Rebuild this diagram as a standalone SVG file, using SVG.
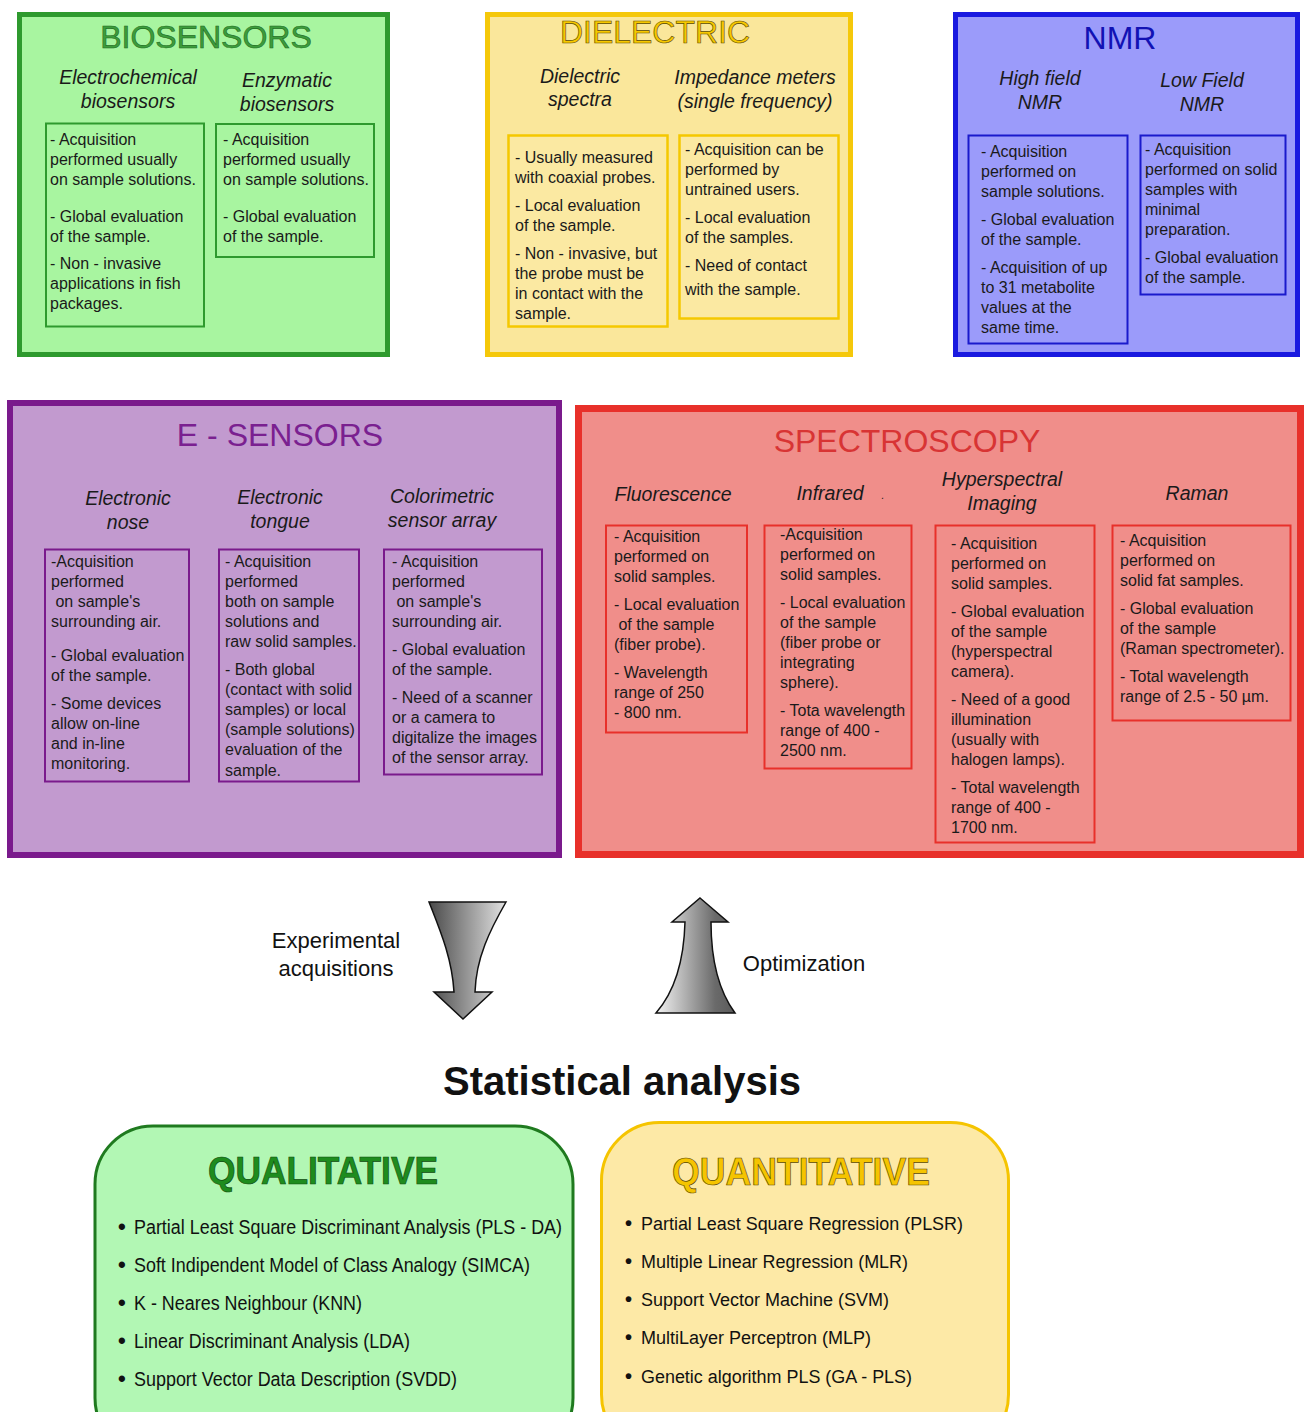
<svg xmlns="http://www.w3.org/2000/svg" width="1304" height="1412" viewBox="0 0 1304 1412">
<style>
text{font-family:"Liberation Sans",Arial,sans-serif;}
.b{font-size:16px;fill:#1a1a1a;}
.sub{font-size:19.5px;font-style:italic;fill:#1a1a1a;text-anchor:middle;}
.title{font-size:32px;text-anchor:middle;}
.li{font-size:20px;fill:#111;}
.bul{font-size:22px;font-weight:bold;fill:#111;}
.arrlbl{font-size:22px;fill:#111;text-anchor:middle;}
</style>
<defs>
<linearGradient id="gDown" x1="0" y1="0" x2="1" y2="0">
<stop offset="0" stop-color="#4a4a4a"/>
<stop offset="1" stop-color="#e2e2e2"/>
</linearGradient>
<linearGradient id="gUp" x1="0" y1="0" x2="1" y2="0">
<stop offset="0" stop-color="#f4f4f4"/>
<stop offset="0.75" stop-color="#6a6a6a"/>
<stop offset="1" stop-color="#5a5a5a"/>
</linearGradient>
</defs>
<rect x="0" y="0" width="1304" height="1412" fill="#ffffff"/>

<g id="biosensors">
<rect x="19.5" y="14.5" width="368" height="340" fill="#a8f5a0" stroke="#2e9a2e" stroke-width="5"/>
<text class="title" x="206" y="48" fill="#3c9c3c" stroke="#1d6a1d" stroke-width="0.6">BIOSENSORS</text>
<text class="sub" x="128" y="84">Electrochemical</text>
<text class="sub" x="128" y="108">biosensors</text>
<text class="sub" x="287" y="87">Enzymatic</text>
<text class="sub" x="287" y="111">biosensors</text>
<rect x="46" y="123.5" width="158" height="203" fill="none" stroke="#2e9a2e" stroke-width="2"/>
<text class="b"><tspan x="50" y="145">- Acquisition</tspan><tspan x="50" y="165">performed usually</tspan><tspan x="50" y="185">on sample solutions.</tspan><tspan x="50" y="222">- Global evaluation</tspan><tspan x="50" y="242">of the sample.</tspan><tspan x="50" y="269">- Non - invasive</tspan><tspan x="50" y="289">applications in fish</tspan><tspan x="50" y="309">packages.</tspan></text>
<rect x="216" y="124" width="158" height="133" fill="none" stroke="#2e9a2e" stroke-width="2"/>
<text class="b"><tspan x="223" y="145">- Acquisition</tspan><tspan x="223" y="165">performed usually</tspan><tspan x="223" y="185">on sample solutions.</tspan><tspan x="223" y="222">- Global evaluation</tspan><tspan x="223" y="242">of the sample.</tspan></text>
</g>

<g id="dielectric">
<rect x="487.5" y="14.5" width="363" height="340" fill="#fae79b" stroke="#f5c80a" stroke-width="5"/>
<text class="title" x="655" y="43" fill="#f7c800" stroke="#5a4a00" stroke-width="0.6">DIELECTRIC</text>
<text class="sub" x="580" y="83">Dielectric</text>
<text class="sub" x="580" y="106">spectra</text>
<text class="sub" x="755" y="84">Impedance meters</text>
<text class="sub" x="755" y="108">(single frequency)</text>
<rect x="508.5" y="135.5" width="159" height="191" fill="#fbe9a2" stroke="#f5c800" stroke-width="2.5"/>
<text class="b"><tspan x="515" y="163">- Usually measured</tspan><tspan x="515" y="183">with coaxial probes.</tspan><tspan x="515" y="211">- Local evaluation</tspan><tspan x="515" y="231">of the sample.</tspan><tspan x="515" y="259">- Non - invasive, but</tspan><tspan x="515" y="279">the probe must be</tspan><tspan x="515" y="299">in contact with the</tspan><tspan x="515" y="319">sample.</tspan></text>
<rect x="679.5" y="135.5" width="159" height="183" fill="#fbe9a2" stroke="#f5c800" stroke-width="2.5"/>
<text class="b"><tspan x="685" y="155">- Acquisition can be</tspan><tspan x="685" y="175">performed by</tspan><tspan x="685" y="195">untrained users.</tspan><tspan x="685" y="223">- Local evaluation</tspan><tspan x="685" y="243">of the samples.</tspan><tspan x="685" y="271">- Need of contact</tspan><tspan x="685" y="295">with the sample.</tspan></text>
</g>

<g id="nmr">
<rect x="955.5" y="14.5" width="342" height="340" fill="#9b9bfa" stroke="#1a1ae0" stroke-width="5"/>
<text class="title" x="1120" y="49" fill="#1212b4">NMR</text>
<text class="sub" x="1040" y="85">High field</text>
<text class="sub" x="1040" y="109">NMR</text>
<text class="sub" x="1202" y="87">Low Field</text>
<text class="sub" x="1202" y="111">NMR</text>
<rect x="968.5" y="135.5" width="159" height="208" fill="none" stroke="#1a1acc" stroke-width="2"/>
<text class="b"><tspan x="981" y="157">- Acquisition</tspan><tspan x="981" y="177">performed on</tspan><tspan x="981" y="197">sample solutions.</tspan><tspan x="981" y="225">- Global evaluation</tspan><tspan x="981" y="245">of the sample.</tspan><tspan x="981" y="273">- Acquisition of up</tspan><tspan x="981" y="293">to 31 metabolite</tspan><tspan x="981" y="313">values at the</tspan><tspan x="981" y="333">same time.</tspan></text>
<rect x="1140.5" y="135.5" width="145" height="159" fill="none" stroke="#1a1acc" stroke-width="2"/>
<text class="b"><tspan x="1145" y="155">- Acquisition</tspan><tspan x="1145" y="175">performed on solid</tspan><tspan x="1145" y="195">samples with</tspan><tspan x="1145" y="215">minimal</tspan><tspan x="1145" y="235">preparation.</tspan><tspan x="1145" y="263">- Global evaluation</tspan><tspan x="1145" y="283">of the sample.</tspan></text>
</g>

<g id="e-sensors">
<rect x="10" y="403" width="549" height="452" fill="#c29acf" stroke="#7a1a8c" stroke-width="6"/>
<text class="title" x="280" y="446" fill="#7a2090">E - SENSORS</text>
<text class="sub" x="128" y="505">Electronic</text>
<text class="sub" x="128" y="529">nose</text>
<text class="sub" x="280" y="504">Electronic</text>
<text class="sub" x="280" y="528">tongue</text>
<text class="sub" x="442" y="503">Colorimetric</text>
<text class="sub" x="442" y="527">sensor array</text>
<rect x="45" y="549.5" width="144" height="232" fill="none" stroke="#7a1a8c" stroke-width="2"/>
<text class="b"><tspan x="51" y="567">-Acquisition</tspan><tspan x="51" y="587">performed</tspan><tspan x="51" y="607"> on sample's</tspan><tspan x="51" y="627">surrounding air.</tspan><tspan x="51" y="661">- Global evaluation</tspan><tspan x="51" y="681">of the sample.</tspan><tspan x="51" y="709">- Some devices</tspan><tspan x="51" y="729">allow on-line</tspan><tspan x="51" y="749">and in-line</tspan><tspan x="51" y="769">monitoring.</tspan></text>
<rect x="219" y="549.5" width="140" height="232" fill="none" stroke="#7a1a8c" stroke-width="2"/>
<text class="b"><tspan x="225" y="567">- Acquisition</tspan><tspan x="225" y="587">performed</tspan><tspan x="225" y="607">both on sample</tspan><tspan x="225" y="627">solutions and</tspan><tspan x="225" y="647">raw solid samples.</tspan><tspan x="225" y="675">- Both global</tspan><tspan x="225" y="695">(contact with solid</tspan><tspan x="225" y="715">samples) or local</tspan><tspan x="225" y="735">(sample solutions)</tspan><tspan x="225" y="755">evaluation of the</tspan><tspan x="225" y="776">sample.</tspan></text>
<rect x="384" y="549.5" width="158" height="225" fill="none" stroke="#7a1a8c" stroke-width="2"/>
<text class="b"><tspan x="392" y="567">- Acquisition</tspan><tspan x="392" y="587">performed</tspan><tspan x="392" y="607"> on sample's</tspan><tspan x="392" y="627">surrounding air.</tspan><tspan x="392" y="655">- Global evaluation</tspan><tspan x="392" y="675">of the sample.</tspan><tspan x="392" y="703">- Need of a scanner</tspan><tspan x="392" y="723">or a camera to</tspan><tspan x="392" y="743">digitalize the images</tspan><tspan x="392" y="763">of the sensor array.</tspan></text>
</g>

<g id="spectroscopy">
<rect x="578.5" y="408.5" width="722" height="446" fill="#f08e8a" stroke="#e8302a" stroke-width="7"/>
<text class="title" x="907" y="452" fill="#d83434">SPECTROSCOPY</text>
<text class="sub" x="673" y="501">Fluorescence</text>
<text class="sub" x="830" y="500">Infrared</text>
<text class="sub" x="883" y="499" style="font-size:10px">.</text>
<text class="sub" x="1002" y="486">Hyperspectral</text>
<text class="sub" x="1002" y="510">Imaging</text>
<text class="sub" x="1197" y="500">Raman</text>
<rect x="606" y="525.5" width="141" height="207" fill="none" stroke="#e8302a" stroke-width="2"/>
<text class="b"><tspan x="614" y="542">- Acquisition</tspan><tspan x="614" y="562">performed on</tspan><tspan x="614" y="582">solid samples.</tspan><tspan x="614" y="610">- Local evaluation</tspan><tspan x="614" y="630"> of the sample</tspan><tspan x="614" y="650">(fiber probe).</tspan><tspan x="614" y="678">- Wavelength</tspan><tspan x="614" y="698">range of 250</tspan><tspan x="614" y="718">- 800 nm.</tspan></text>
<rect x="764.5" y="525.5" width="147" height="243" fill="none" stroke="#e8302a" stroke-width="2"/>
<text class="b"><tspan x="780" y="540">-Acquisition</tspan><tspan x="780" y="560">performed on</tspan><tspan x="780" y="580">solid samples.</tspan><tspan x="780" y="608">- Local evaluation</tspan><tspan x="780" y="628">of the sample</tspan><tspan x="780" y="648">(fiber probe or</tspan><tspan x="780" y="668">integrating</tspan><tspan x="780" y="688">sphere).</tspan><tspan x="780" y="716">- Tota wavelength</tspan><tspan x="780" y="736">range of 400 -</tspan><tspan x="780" y="756">2500 nm.</tspan></text>
<rect x="935.5" y="525.5" width="159" height="317" fill="none" stroke="#e8302a" stroke-width="2"/>
<text class="b"><tspan x="951" y="549">- Acquisition</tspan><tspan x="951" y="569">performed on</tspan><tspan x="951" y="589">solid samples.</tspan><tspan x="951" y="617">- Global evaluation</tspan><tspan x="951" y="637">of the sample</tspan><tspan x="951" y="657">(hyperspectral</tspan><tspan x="951" y="677">camera).</tspan><tspan x="951" y="705">- Need of a good</tspan><tspan x="951" y="725">illumination</tspan><tspan x="951" y="745">(usually with</tspan><tspan x="951" y="765">halogen lamps).</tspan><tspan x="951" y="793">- Total wavelength</tspan><tspan x="951" y="813">range of 400 -</tspan><tspan x="951" y="833">1700 nm.</tspan></text>
<rect x="1112.5" y="525.5" width="178" height="195" fill="none" stroke="#e8302a" stroke-width="2"/>
<text class="b"><tspan x="1120" y="546">- Acquisition</tspan><tspan x="1120" y="566">performed on</tspan><tspan x="1120" y="586">solid fat samples.</tspan><tspan x="1120" y="614">- Global evaluation</tspan><tspan x="1120" y="634">of the sample</tspan><tspan x="1120" y="654">(Raman spectrometer).</tspan><tspan x="1120" y="682">- Total wavelength</tspan><tspan x="1120" y="702">range of 2.5 - 50 µm.</tspan></text>
</g>

<g id="connectors">
<path d="M429,902 L506,902 C490,930 476,958 475,992 L492,992 L463,1019 L434,992 L454,992 C452,958 440,930 429,902 Z" fill="url(#gDown)" stroke="#111" stroke-width="1.5" stroke-linejoin="miter"/>
<path d="M700,898 L728,922 L711,922 C711,960 718,990 735,1013 L656,1013 C676,990 684,960 685,922 L672,922 Z" fill="url(#gUp)" stroke="#111" stroke-width="1.5"/>
<text class="arrlbl" x="336" y="948">Experimental</text>
<text class="arrlbl" x="336" y="976">acquisitions</text>
<text class="arrlbl" x="804" y="971">Optimization</text>
</g>

<g id="statistical-analysis">
<text x="622" y="1095" style="font-size:40px;font-weight:bold;text-anchor:middle;fill:#111">Statistical analysis</text>
</g>

<g id="qualitative">
<rect x="95" y="1126" width="478" height="330" rx="58" ry="58" fill="#b2f7b4" stroke="#1f7a1f" stroke-width="3"/>
<text x="208" y="1184" textLength="230" lengthAdjust="spacingAndGlyphs" style="font-size:38px;font-weight:bold;fill:#1e8c1e;stroke:#0c4a0c;stroke-width:0.7">QUALITATIVE</text>
<text class="bul" x="118" y="1234">•</text>
<text class="li" x="134" y="1234" textLength="428" lengthAdjust="spacingAndGlyphs">Partial Least Square Discriminant Analysis (PLS - DA)</text>
<text class="bul" x="118" y="1272">•</text>
<text class="li" x="134" y="1272" textLength="396" lengthAdjust="spacingAndGlyphs">Soft Indipendent Model of Class Analogy (SIMCA)</text>
<text class="bul" x="118" y="1310">•</text>
<text class="li" x="134" y="1310" textLength="228" lengthAdjust="spacingAndGlyphs">K - Neares Neighbour (KNN)</text>
<text class="bul" x="118" y="1348">•</text>
<text class="li" x="134" y="1348" textLength="276" lengthAdjust="spacingAndGlyphs">Linear Discriminant Analysis (LDA)</text>
<text class="bul" x="118" y="1386">•</text>
<text class="li" x="134" y="1386" textLength="323" lengthAdjust="spacingAndGlyphs">Support Vector Data Description (SVDD)</text>
</g>

<g id="quantitative">
<rect x="601.5" y="1122.5" width="407" height="330" rx="58" ry="58" fill="#fde9a6" stroke="#f5c400" stroke-width="3"/>
<text x="672" y="1185" textLength="258" lengthAdjust="spacingAndGlyphs" style="font-size:38px;font-weight:bold;fill:#f5c400;stroke:#5a4800;stroke-width:0.7">QUANTITATIVE</text>
<text class="bul" x="625" y="1230" style="font-size:20px">•</text>
<text class="li" x="641" y="1230" style="font-size:18px" textLength="322" lengthAdjust="spacingAndGlyphs">Partial Least Square Regression (PLSR)</text>
<text class="bul" x="625" y="1268" style="font-size:20px">•</text>
<text class="li" x="641" y="1268" style="font-size:18px" textLength="267" lengthAdjust="spacingAndGlyphs">Multiple Linear Regression (MLR)</text>
<text class="bul" x="625" y="1306" style="font-size:20px">•</text>
<text class="li" x="641" y="1306" style="font-size:18px" textLength="248" lengthAdjust="spacingAndGlyphs">Support Vector Machine (SVM)</text>
<text class="bul" x="625" y="1344" style="font-size:20px">•</text>
<text class="li" x="641" y="1344" style="font-size:18px" textLength="230" lengthAdjust="spacingAndGlyphs">MultiLayer Perceptron (MLP)</text>
<text class="bul" x="625" y="1383" style="font-size:20px">•</text>
<text class="li" x="641" y="1383" style="font-size:18px" textLength="271" lengthAdjust="spacingAndGlyphs">Genetic algorithm PLS (GA - PLS)</text>
</g>
</svg>
